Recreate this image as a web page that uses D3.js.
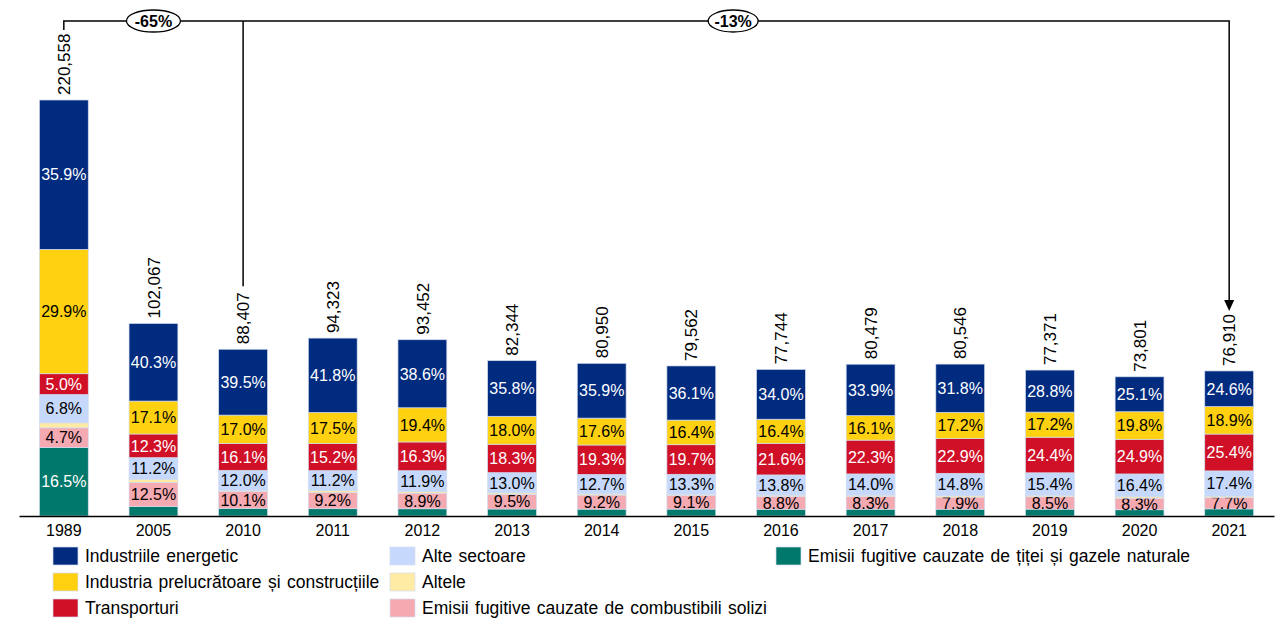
<!DOCTYPE html>
<html>
<head>
<meta charset="utf-8">
<script src="https://cdn.jsdelivr.net/npm/d3@7"></script>
<style>
  html, body { margin: 0; padding: 0; background: #fff; }
  svg { display: block; font-family: Arial, "Liberation Sans", sans-serif; }
</style>
</head>
<body>
<svg id="chart" width="1276" height="618"></svg>
<script>
const years = ["1989","2005","2010","2011","2012","2013","2014","2015","2016","2017","2018","2019","2020","2021"];
const totals = [220558,102067,88407,94323,93452,82344,80950,79562,77744,80479,80546,77371,73801,76910];
const totalLabels = ["220,558","102,067","88,407","94,323","93,452","82,344","80,950","79,562","77,744","80,479","80,546","77,371","73,801","76,910"];

// shares (%) per series, stacked bottom -> top
const seriesNames = [
  "Emisii fugitive cauzate de țiței și gazele naturale",
  "Emisii fugitive cauzate de combustibili solizi",
  "Altele",
  "Alte sectoare",
  "Transporturi",
  "Industria prelucrătoare și construcțiile",
  "Industriile energetic"
];
const pctFugitiveOilGas = [16.5,4.9,4.6,4.1,4.1,4.5,4.5,4.6,4.6,4.5,4.5,4.7,4.5,4.9];
const pctFugitiveSolid  = [4.7,12.5,10.1,9.2,8.9,9.5,9.2,9.1,8.8,8.3,7.9,8.5,8.3,7.7];
const pctAltele         = [1.2,1.7,0.7,1.0,0.8,0.9,0.8,0.8,0.8,0.9,0.9,1.0,1.0,1.1];
const pctAlteSectoare   = [6.8,11.2,12.0,11.2,11.9,13.0,12.7,13.3,13.8,14.0,14.8,15.4,16.4,17.4];
const pctTransport      = [5.0,12.3,16.1,15.2,16.3,18.3,19.3,19.7,21.6,22.3,22.9,24.4,24.9,25.4];
const pctManufacturing  = [29.9,17.1,17.0,17.5,19.4,18.0,17.6,16.4,16.4,16.1,17.2,17.2,19.8,18.9];
const pctEnergy         = [35.9,40.3,39.5,41.8,38.6,35.8,35.9,36.1,34.0,33.9,31.8,28.8,25.1,24.6];
const seriesPct = [pctFugitiveOilGas,pctFugitiveSolid,pctAltele,pctAlteSectoare,pctTransport,pctManufacturing,pctEnergy];

const colors = ["#00786B","#F5A9B1","#FFEBA3","#C6D9FC","#D01027","#FFD111","#002B7F"];
const textColors = ["#fff","#000","#000","#000","#fff","#000","#fff"];

const changeLabels = ["-65%","-13%"];

// legend layout: [seriesIndex, column, row]
const legendOrder = [[6,0,0],[5,0,1],[4,0,2],[3,1,0],[2,1,1],[1,1,2],[0,2,0]];

const svg = d3.select("#chart");
const baseY = 516;

const x = d3.scaleBand().domain(years).range([19, 1274]).paddingInner(0.455).paddingOuter(0.2275);
const y = d3.scaleLinear().domain([0, 220558]).range([baseY, 100]);

// build table
const table = years.map((yr, i) => {
  const row = { year: yr, total: totals[i] };
  seriesNames.forEach((s, k) => { row[s] = totals[i] * seriesPct[k][i] / 100; });
  return row;
});
const stacked = d3.stack().keys(seriesNames)(table);

const g = svg.append("g");
stacked.forEach((layer, k) => {
  const lg = g.append("g");
  lg.selectAll("rect").data(layer).join("rect")
    .attr("x", d => x(d.data.year))
    .attr("width", x.bandwidth())
    .attr("y", d => y(d[1]))
    .attr("height", d => y(d[0]) - y(d[1]))
    .attr("fill", colors[k])
    .attr("stroke", "#d3dcee")
    .attr("stroke-width", 0.7);
  lg.selectAll("text").data(layer.map((d, i) => ({d, i}))
      .filter(o => (y(o.d[0]) - y(o.d[1])) > 10))
    .join("text")
    .attr("x", o => x(o.d.data.year) + x.bandwidth() / 2)
    .attr("y", o => (y(o.d[0]) + y(o.d[1])) / 2)
    .attr("dy", "0.36em")
    .attr("text-anchor", "middle")
    .attr("font-size", 16)
    .attr("fill", textColors[k])
    .text(o => seriesPct[k][o.i].toFixed(1) + "%");
});

// total labels (rotated)
const valueFont = 17;
svg.append("g").selectAll("text").data(years).join("text")
  .attr("transform", (yr, i) => `translate(${x(yr) + x.bandwidth()/2},${y(totals[i]) - 5}) rotate(-90)`)
  .attr("dy", "0.36em")
  .attr("text-anchor", "start")
  .attr("font-size", valueFont)
  .attr("fill", "#000")
  .text((yr, i) => totalLabels[i]);

// axis
const axis = d3.axisBottom(x).tickSize(0).tickSizeOuter(0).tickPadding(9);
const ax = svg.append("g").attr("transform", `translate(0,${baseY})`).call(axis);
ax.select(".domain").attr("stroke", "#000").attr("stroke-width", 1.6);
ax.selectAll("text").attr("font-size", 16).attr("fill", "#000")
  .attr("font-family", "Arial, 'Liberation Sans', sans-serif");

// bracket annotation
const cx = yr => x(yr) + x.bandwidth() / 2;
const topY = 21;
const labelLen = valueFont * 0.556 * 5 + valueFont * 0.278; // approx length of a 6-char label
const i2010 = years.indexOf("2010"), i2021 = years.indexOf("2021");
const ann = svg.append("g").attr("stroke", "#000").attr("stroke-width", 1.5).attr("fill", "none");
ann.append("path").attr("d",
  `M${cx("1989")},${y(totals[0]) - 70}V${topY}H${cx("2021")}V${y(totals[i2021]) - 5 - labelLen - 12}`);
ann.append("path").attr("d",
  `M${cx("2010")},${topY}V${y(totals[i2010]) - 5 - labelLen - 6}`);
const tipY = y(totals[i2021]) - 5 - labelLen - 3;
svg.append("path")
  .attr("d", `M${cx("2021") - 5},${tipY - 11}L${cx("2021") + 5},${tipY - 11}L${cx("2021")},${tipY}Z`)
  .attr("fill", "#000");

const ellipses = [
  { cx: cx("2005"), rx: 27, label: changeLabels[0] },
  { cx: (cx("2010") + cx("2021")) / 2 - 3, rx: 25, label: changeLabels[1] }
];
ellipses.forEach(e => {
  svg.append("ellipse").attr("cx", e.cx).attr("cy", topY).attr("rx", e.rx).attr("ry", 11)
    .attr("fill", "#fff").attr("stroke", "#000").attr("stroke-width", 1.3);
  svg.append("text").attr("x", e.cx).attr("y", topY).attr("dy", "0.36em")
    .attr("text-anchor", "middle").attr("font-size", 16).attr("font-weight", "bold")
    .text(e.label);
});

// legend
const colX = [53, 390, 776];
const rowY = [547, 573, 599];
const leg = svg.append("g");
legendOrder.forEach(([k, c, r]) => {
  leg.append("rect").attr("x", colX[c]).attr("y", rowY[r]).attr("width", 25).attr("height", 18)
    .attr("fill", colors[k]).attr("stroke", "#d3dcee").attr("stroke-width", 0.7);
  leg.append("text").attr("x", colX[c] + 32).attr("y", rowY[r] + 9).attr("dy", "0.36em")
    .attr("font-size", 17.5).attr("word-spacing", 1.5).attr("fill", "#000").text(seriesNames[k]);
});
</script>
</body>
</html>
